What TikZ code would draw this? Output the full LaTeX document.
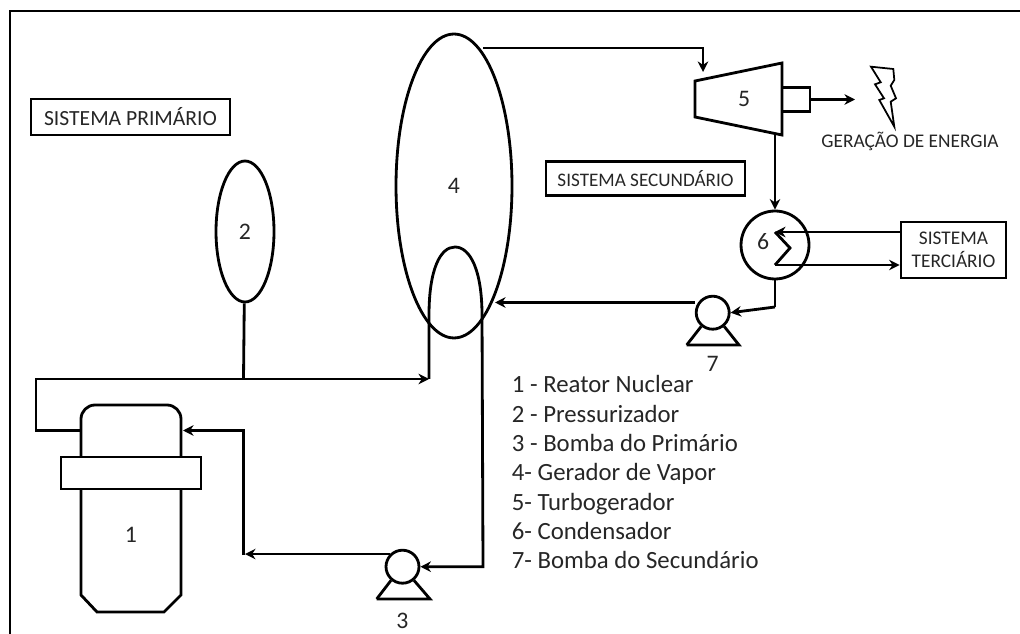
\documentclass[tikz,border=0pt]{standalone}
\usepackage{fontspec}
\setmainfont{Carlito}
\usetikzlibrary{calc, positioning, arrows.meta, shapes.geometric}

\begin{document}
\begin{tikzpicture}[x=0.02cm, y=-0.02cm, line width=1.6pt, >={Stealth[length=6pt,width=6pt]},
        vaso/.style={draw, ellipse, inner sep=0pt},
        bomba/.style={draw, circle, minimum size=0.66cm, inner sep=0pt},
        caixa/.style={draw, rectangle, inner sep=0pt, font=\fontsize{11}{13.2}\selectfont},
        numero/.style={inner sep=0pt, font=\fontsize{13.5}{16}\selectfont},
        every node/.append style={text=black!85}]
        \useasboundingbox (0,0) rectangle (1020,634);

        % moldura
        \draw (1020,11) -- (10,11) -- (10,634);

        % reator
        \draw[rounded corners=8pt] (81,473) -- (81,405) -- (181,405) -- (181,473);
        \draw (81,473) -- (81,595) -- (97,612) -- (164,612) -- (181,595) -- (181,473);
        \node (n1b) [draw, fill=white, minimum width=2.8cm, minimum height=0.64cm, inner sep=0pt] at (131,473) {};
        \node (n1) [numero] at (131,535) {1};
        \coordinate (n1l) at (81,430.5);
        \coordinate (n1r) at (183,430.5);

        % pressurizador e gerador de vapor
        \node (n2) [vaso, numero, draw, minimum width=1.16cm, minimum height=2.82cm] at (245,231.5) {2};
        \node (n4) [vaso, numero, draw, minimum width=2.32cm, minimum height=6.08cm] at (454,186) {4};
        \coordinate (n4s) at (483,48);
        \coordinate (n4e) at (495,302.5);
        \coordinate (n4u) at (429,379);
        \coordinate (j1) at (243.5,379);

        % bombas
        \node (n3) [bomba] at (402.5,566.7) {};
        \node (n3l) [numero, below=0.54cm of n3] {3};
        \draw (376.7,599) -- (430,599) -- (n3.-50);
        \draw (376.7,599) -- (n3.-130);
        \node (n7) [bomba] at (712.7,312.7) {};
        \node (n7l) [numero, below=0.48cm of n7] {7};
        \draw (686.7,345) -- (739,345) -- (n7.-50);
        \draw (686.7,345) -- (n7.-130);

        % turbogerador
        \draw (695,81) -- (782,63) -- (782,135) -- (695,117) -- cycle;
        \node (n5) [numero] at (744,99) {5};
        \node (g5) [draw, minimum width=0.56cm, minimum height=0.47cm, inner sep=0pt] at (796,99.5) {};
        \coordinate (n5a) at (703,72);
        \coordinate (n5b) at (775,133.5);
        \coordinate (g5e) at (855,99.5);

        % condensador
        \node (n6) [draw, circle, minimum size=1.36cm, inner sep=0pt] at (775,245) {};
        \node (n6l) [numero] at (763,242) {6};
        \coordinate (s1) at (775,232);
        \coordinate (s2) at (775,265);
        \coordinate (j6) at (775,307);

        % raio
        \draw[line width=1pt] (871,66.7) -- (893.3,69) -- (894.3,80) -- (890.7,85.7) -- (896,98.3) -- (890.7,101.7)
            -- (894.3,126.7) -- (879.3,100) -- (884,98.3) -- (875,84.3) -- (880.7,82.3) -- cycle;

        % caixas
        \node (sp) [caixa, font=\fontsize{12.3}{14}\selectfont, minimum width=3.98cm, minimum height=0.72cm] at (130.5,117) {SISTEMA PRIMÁRIO};
        \node (ss) [caixa, font=\fontsize{10.9}{13}\selectfont, minimum width=3.98cm, minimum height=0.68cm] at (645.5,178.5) {SISTEMA SECUNDÁRIO};
        \node (st) [caixa, minimum width=2.1cm, minimum height=1.12cm, align=center] at (953.5,250) {SISTEMA\\TERCIÁRIO};
        \node (ge) [inner sep=0pt, font=\fontsize{11}{13.2}\selectfont] at (910,141.7) {GERAÇÃO DE ENERGIA};

        \node (leg) [inner sep=0pt, anchor=north west, align=left, font=\fontsize{14.1}{16.73}\selectfont] at (510.5,374)
            {1 - Reator Nuclear\\2 - Pressurizador\\3 - Bomba do Primário\\4- Gerador de Vapor\\5- Turbogerador\\6- Condensador\\7- Bomba do Secundário};

        % primario
        \draw[->] (n1l) -- (36,430.5) -- (36,379) -- (n4u);
        \draw (n2) -- (j1);
        \draw[->] (n4u) -- (429,315) .. controls (429,270) and (440,247) .. (455,247)
            .. controls (470,247) and (482,270) .. (482,315) -- (483,566.7) -- (n3.east);
        \coordinate (j3) at (245,555);
        \draw[->] (n3.135) -- (n3.135 -| j3);
        \draw[->] (243.5,555) -- (243.5,430.5) -- (n1r);

        % secundario
        \draw[->] (n4s) -| (n5a);
        \draw[->] (n5b) -- (n6.north);
        \draw (n6.south) -- (j6);
        \draw[->] (j6) -- (n7.east);
        \draw[->] (n7.west |- n4e) -- (n4e);
        \draw[->] (g5) -- (g5e);

        % terciario
        \draw[->] (st.west |- s1) -- (s1);
        \draw (s1) -- (790,248) -- (s2);
        \draw[->] (s2) -- (st.west |- s2);
    \end{tikzpicture}
\end{document}
